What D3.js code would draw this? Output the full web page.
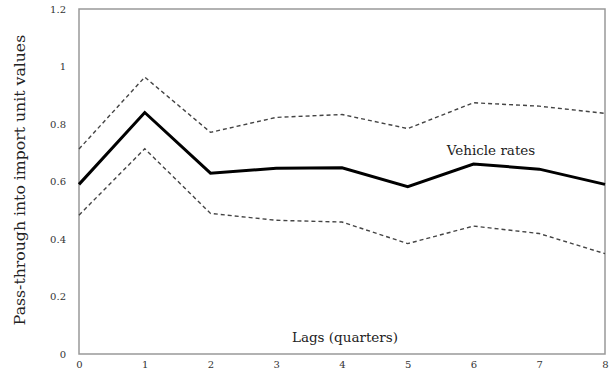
<!DOCTYPE html>
<html><head><meta charset="utf-8">
<script src="https://cdn.jsdelivr.net/npm/d3@7"></script>
<style>body{margin:0;background:#fff}svg text{font-family:"DejaVu Serif",serif}</style>
</head><body><svg id="c" width="614" height="376"></svg>
<script>
const lags = [0,1,2,3,4,5,6,7,8];
const estimate = [0.59,0.84,0.629,0.646,0.648,0.582,0.661,0.643,0.59];
const upperBand = [0.713,0.963,0.771,0.823,0.833,0.784,0.874,0.862,0.837];
const lowerBand = [0.483,0.714,0.489,0.465,0.459,0.384,0.445,0.419,0.349];
const yTicks = [0,0.2,0.4,0.6,0.8,1,1.2];
const xTicks = [0,1,2,3,4,5,6,7,8];

const svg = d3.select("#c");
const L=79,R=605,T=9,B=354;
const x = d3.scaleLinear().domain([0,8]).range([L,R]);
const y = d3.scaleLinear().domain([0,1.2]).range([B,T]);

svg.append("rect").attr("x",L).attr("y",T).attr("width",R-L).attr("height",B-T)
  .attr("fill","none").attr("stroke","#999").attr("stroke-width",1.5);

const ya = svg.append("g").attr("transform",`translate(${L},0)`)
  .call(d3.axisLeft(y).tickValues(yTicks).tickSize(0).tickPadding(13).tickFormat(d=>String(d)));
ya.select(".domain").remove();
ya.selectAll("text").attr("font-size",10).attr("fill","#333").style("font-family","DejaVu Serif");

const xa = svg.append("g").attr("transform",`translate(0,${B})`)
  .call(d3.axisBottom(x).tickValues(xTicks).tickSize(0).tickPadding(7).tickFormat(d=>String(d)));
xa.select(".domain").remove();
xa.selectAll("text").attr("font-size",10).attr("fill","#333").style("font-family","DejaVu Serif");

const line = d3.line().x((d,i)=>x(lags[i])).y(d=>y(d));
svg.append("path").datum(upperBand).attr("d",line).attr("fill","none")
  .attr("stroke","#444").attr("stroke-width",1.4).attr("stroke-dasharray","4,3");
svg.append("path").datum(lowerBand).attr("d",line).attr("fill","none")
  .attr("stroke","#444").attr("stroke-width",1.4).attr("stroke-dasharray","4,3");
svg.append("path").datum(estimate).attr("d",line).attr("fill","none")
  .attr("stroke","#000").attr("stroke-width",3).attr("stroke-linejoin","miter");

svg.append("text").attr("x",491).attr("y",155).attr("text-anchor","middle")
  .attr("font-size",13.5).attr("fill","#222").text("Vehicle rates");
svg.append("text").attr("x",345).attr("y",342).attr("text-anchor","middle")
  .attr("font-size",13.5).attr("fill","#222").text("Lags (quarters)");
svg.append("text").attr("transform","translate(25,180) rotate(-90)").attr("text-anchor","middle")
  .attr("font-size",15.7).attr("fill","#222").text("Pass-through into import unit values");
</script></body></html>
